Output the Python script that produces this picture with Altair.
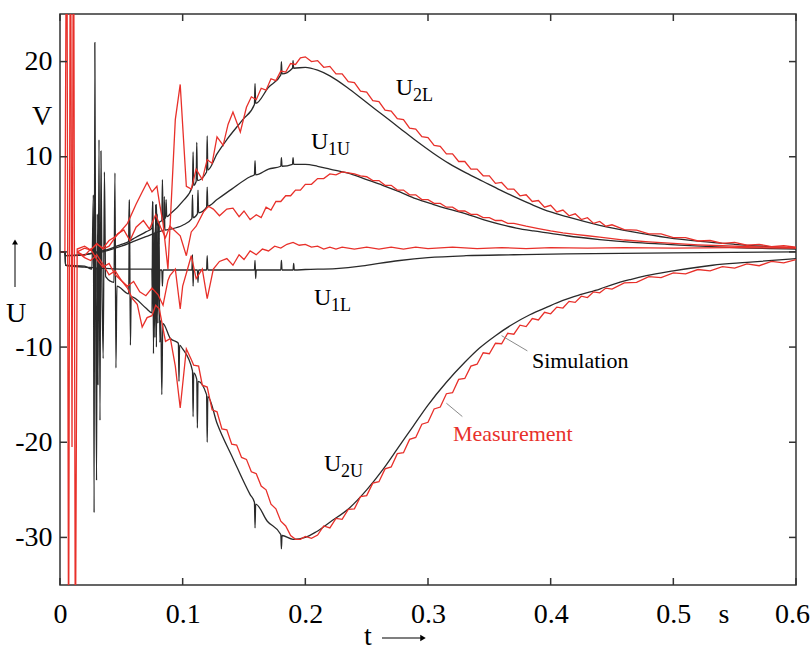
import altair as alt
import pandas as pd

# ---------------- data (t in s, U in V) ----------------
XTICKS = [0, 0.1, 0.2, 0.3, 0.4, 0.5, 0.6]
YTICKS = [-30, -20, -10, 0, 10, 20]

SIM_U2L = [(0, 0), (0.004, 0), (0.0045, -0.4), (0.02, -0.3), (0.03, 0.0), (0.04, 0.3), (0.05, 0.8),
           (0.056, 1.1), (0.0565, 5.5), (0.057, 1.2), (0.06, 1.4), (0.07, 2.1), (0.075, 2.5), (0.0755, 5.3),
           (0.076, 0.5), (0.078, 2.7), (0.0785, 5.0), (0.079, 2.8), (0.08, 3.0), (0.0805, 0.8), (0.081, 3.1),
           (0.083, 3.3), (0.0835, 7.6), (0.084, 3.4), (0.086, 3.6), (0.0865, 5.5), (0.087, 3.7), (0.09, 4.0),
           (0.1, 5.3), (0.108, 6.9), (0.1085, 10.5), (0.109, 7.0), (0.111, 7.4), (0.1115, 11.5), (0.112, 7.5),
           (0.1195, 8.4), (0.12, 12.2), (0.1205, 8.6), (0.128, 10.3), (0.136, 11.8), (0.149, 13.9),
           (0.1585, 15.5), (0.159, 17.7), (0.1595, 15.6), (0.17, 17.3), (0.18, 18.6), (0.1805, 20.0),
           (0.181, 18.7), (0.1895, 19.3), (0.19, 20.1), (0.1905, 19.3), (0.2, 19.4), (0.21, 19.1), (0.22, 18.5),
           (0.236, 17.1), (0.25, 15.7), (0.264, 14.3), (0.277, 13.0), (0.29, 11.7), (0.304, 10.4), (0.317, 9.3),
           (0.331, 8.3), (0.345, 7.4), (0.359, 6.5), (0.372, 5.7), (0.386, 4.9), (0.4, 4.2), (0.413, 3.7),
           (0.44, 2.8), (0.467, 2.1), (0.495, 1.5), (0.522, 1.1), (0.55, 0.8), (0.6, 0.4)]

SIM_U1U = [(0, 0), (0.004, 0), (0.0045, -0.4), (0.03, -0.1), (0.04, 0.2), (0.05, 0.6), (0.06, 1.1), (0.07, 1.6),
           (0.08, 2.1), (0.0845, 2.3), (0.085, 5.8), (0.0855, 2.3), (0.09, 2.4), (0.1, 2.8), (0.1075, 3.5),
           (0.108, 6.0), (0.1085, 3.6), (0.112, 4.0), (0.1125, 6.5), (0.113, 4.1), (0.1195, 4.7), (0.12, 6.8),
           (0.1205, 4.8), (0.128, 5.5), (0.14, 6.6), (0.155, 7.9), (0.1585, 8.1), (0.159, 9.6), (0.1595, 8.1),
           (0.17, 8.7), (0.18, 9.0), (0.1805, 9.9), (0.181, 9.0), (0.1895, 9.2), (0.19, 9.9), (0.1905, 9.2),
           (0.2, 9.2), (0.21, 9.0), (0.22, 8.7), (0.237, 8.2), (0.25, 7.6), (0.263, 7.0), (0.277, 6.3),
           (0.29, 5.6), (0.304, 5.0), (0.317, 4.5), (0.331, 4.0), (0.345, 3.4), (0.359, 2.9), (0.372, 2.5),
           (0.386, 2.2), (0.4, 1.95), (0.413, 1.7), (0.44, 1.3), (0.467, 1.0), (0.495, 0.8), (0.522, 0.6),
           (0.55, 0.45), (0.6, 0.3)]

SIM_U1L = [(0, 0), (0.004, 0), (0.0045, -1.4), (0.02, -1.6), (0.03, -1.7), (0.0305, -4.5), (0.031, -1.7),
           (0.05, -1.8), (0.075, -1.8), (0.0755, -4.0), (0.076, -0.5), (0.0765, -3.5), (0.077, -1.8),
           (0.08, -1.9), (0.0805, 1.5), (0.081, -4.0), (0.0815, -1.9), (0.083, -1.9), (0.0835, -3.6),
           (0.084, -1.9), (0.1, -1.9), (0.1075, -1.9), (0.108, -0.3), (0.1085, -3.6), (0.109, -1.9),
           (0.112, -1.9), (0.1125, -3.2), (0.113, -1.9), (0.1195, -1.9), (0.12, -0.4), (0.1205, -1.9),
           (0.15, -1.9), (0.1585, -1.9), (0.159, -0.9), (0.1595, -2.8), (0.16, -1.9), (0.18, -1.9),
           (0.1805, -0.9), (0.181, -1.9), (0.19, -1.9), (0.1905, -1.2), (0.191, -1.9), (0.2, -1.85),
           (0.225, -1.75), (0.245, -1.5), (0.26, -1.2), (0.277, -0.9), (0.3, -0.6), (0.331, -0.4),
           (0.37, -0.3), (0.413, -0.2), (0.5, -0.1), (0.6, 0.0)]

SIM_U2U = [(0, 0), (0.004, 0), (0.0045, -1.4), (0.02, -1.5), (0.026, -1.8), (0.0272, 6.0), (0.0278, -27.4),
           (0.0284, 22.0), (0.029, -2.0), (0.0298, -24.0), (0.0304, 4.0), (0.031, -14.0), (0.0318, 11.8),
           (0.0326, -17.7), (0.0334, 10.6), (0.0342, -3.0), (0.0352, -11.2), (0.0362, 8.4), (0.0372, -2.6),
           (0.044, -3.2), (0.0448, 8.3), (0.0456, -12.2), (0.0464, -3.6), (0.056, -4.4), (0.0566, 5.3),
           (0.0574, -9.8), (0.058, -4.7), (0.07, -5.9), (0.075, -6.4), (0.0756, 5.3), (0.0762, -10.7),
           (0.0768, 2.0), (0.0774, -9.0), (0.078, 5.0), (0.0786, -10.0), (0.0792, 4.0), (0.0798, -7.5),
           (0.0806, 3.0), (0.0814, -9.5), (0.0822, -7.2), (0.083, -15.0), (0.0838, -7.5), (0.09, -9.1),
           (0.0965, -9.6), (0.097, -13.6), (0.0975, -9.8), (0.1, -10.2), (0.108, -12.5), (0.1085, -17.3),
           (0.109, -12.7), (0.1115, -13.4), (0.112, -18.5), (0.1125, -13.6), (0.1195, -15.0), (0.12, -20.0),
           (0.1205, -15.2), (0.128, -18.0), (0.141, -21.7), (0.155, -25.5), (0.1585, -26.3), (0.159, -29.0),
           (0.1595, -26.5), (0.169, -28.3), (0.18, -29.7), (0.1805, -31.2), (0.181, -29.8), (0.19, -30.2),
           (0.2, -30.0), (0.209, -29.4), (0.22, -28.4), (0.236, -26.9), (0.25, -25.0), (0.263, -22.9),
           (0.275, -20.7), (0.288, -18.3), (0.3, -16.1), (0.315, -13.7), (0.33, -11.6), (0.342, -10.1),
           (0.355, -8.8), (0.369, -7.6), (0.383, -6.6), (0.397, -5.8), (0.41, -5.1), (0.424, -4.5),
           (0.44, -3.9), (0.451, -3.4), (0.465, -2.9), (0.478, -2.5), (0.5, -2.0), (0.532, -1.4),
           (0.56, -1.1), (0.6, -0.7)]

MEAS_U2L = [(0, 0), (0.004, 0), (0.0055, 45), (0.007, -45), (0.0085, 45), (0.0098, -20.5), (0.011, 45),
            (0.0125, -45), (0.014, 0.3), (0.02, 0.6), (0.025, 0.2), (0.03, 0.8), (0.035, 0.4), (0.04, 1.2),
            (0.045, 1.6), (0.049, 2.1), (0.055, 3.0), (0.062, 5.0), (0.067, 6.3), (0.071, 7.3), (0.075, 6.3),
            (0.079, 6.9), (0.081, 5.2), (0.084, 3.0), (0.088, -1.8), (0.094, 13.9), (0.098, 17.6),
            (0.103, 6.9), (0.107, 6.6), (0.111, 8.7), (0.116, 7.6), (0.12, 9.7), (0.124, 9.3), (0.128, 12.1),
            (0.133, 11.2), (0.137, 13.4), (0.141, 14.7), (0.147, 12.6), (0.152, 15.2), (0.156, 16.3),
            (0.16, 16.0), (0.164, 17.2), (0.168, 17.0), (0.172, 18.2), (0.176, 18.0), (0.18, 19.0),
            (0.184, 18.9), (0.188, 19.8), (0.192, 19.7), (0.196, 20.4), (0.2, 20.5), (0.205, 20.0),
            (0.21, 20.1), (0.215, 19.4), (0.22, 19.5), (0.225, 18.7), (0.23, 18.7), (0.235, 17.9),
            (0.24, 17.8), (0.245, 16.9), (0.25, 16.8), (0.255, 15.9), (0.26, 15.8), (0.265, 14.9),
            (0.27, 14.8), (0.275, 14.0), (0.28, 13.9), (0.285, 13.0), (0.29, 12.9), (0.295, 12.1),
            (0.3, 12.0), (0.305, 11.2), (0.31, 11.1), (0.315, 10.3), (0.32, 10.3), (0.325, 9.5), (0.33, 9.5),
            (0.335, 8.7), (0.34, 8.7), (0.345, 8.0), (0.35, 8.0), (0.355, 7.2), (0.36, 7.3), (0.365, 6.6),
            (0.37, 6.6), (0.375, 5.9), (0.38, 6.0), (0.385, 5.3), (0.39, 5.4), (0.395, 4.7), (0.4, 4.9),
            (0.405, 4.2), (0.41, 4.4), (0.415, 3.8), (0.42, 4.0), (0.425, 3.4), (0.43, 3.6), (0.435, 3.0),
            (0.44, 3.2), (0.445, 2.7), (0.45, 2.85), (0.46, 2.35), (0.47, 2.3), (0.48, 1.9), (0.49, 1.9),
            (0.5, 1.5), (0.51, 1.5), (0.52, 1.15), (0.53, 1.2), (0.54, 0.9), (0.55, 1.0), (0.56, 0.7),
            (0.57, 0.8), (0.58, 0.55), (0.59, 0.65), (0.6, 0.5)]

MEAS_U1U = [(0.014, 0.0), (0.02, 0.4), (0.025, 0.2), (0.03, 0.9), (0.035, 0.3), (0.04, 0.6), (0.047, 1.9),
            (0.052, 2.3), (0.057, 1.2), (0.062, 2.6), (0.068, 3.3), (0.073, 2.4), (0.078, 3.9), (0.082, 2.6),
            (0.086, 1.5), (0.0896, 2.7), (0.098, 1.7), (0.103, -0.4), (0.107, 2.1), (0.111, 2.7),
            (0.117, 4.2), (0.121, 4.8), (0.125, 4.5), (0.13, 3.8), (0.136, 4.5), (0.141, 4.6), (0.146, 3.7),
            (0.15, 4.3), (0.155, 3.4), (0.16, 3.9), (0.164, 3.6), (0.168, 4.7), (0.172, 4.4), (0.176, 5.3),
            (0.18, 5.3), (0.184, 5.9), (0.188, 5.9), (0.192, 6.5), (0.196, 6.5), (0.2, 7.1), (0.205, 7.1),
            (0.21, 7.7), (0.215, 7.7), (0.22, 8.2), (0.225, 8.1), (0.23, 8.4), (0.235, 8.3), (0.24, 8.2),
            (0.245, 8.0), (0.25, 7.9), (0.255, 7.5), (0.26, 7.5), (0.265, 7.0), (0.27, 7.0), (0.275, 6.5),
            (0.28, 6.5), (0.285, 6.0), (0.29, 6.0), (0.295, 5.5), (0.3, 5.5), (0.305, 5.1), (0.31, 5.1),
            (0.315, 4.7), (0.32, 4.7), (0.325, 4.3), (0.33, 4.3), (0.335, 3.95), (0.34, 3.95), (0.345, 3.6),
            (0.35, 3.6), (0.355, 3.3), (0.36, 3.3), (0.365, 3.0), (0.37, 3.0), (0.38, 2.7), (0.39, 2.45),
            (0.4, 2.2), (0.41, 2.0), (0.42, 1.85), (0.43, 1.7), (0.44, 1.55), (0.46, 1.25), (0.48, 1.05),
            (0.5, 0.9), (0.52, 0.75), (0.54, 0.65), (0.56, 0.55), (0.58, 0.5), (0.6, 0.45)]

MEAS_U1L = [(0.014, 0.0), (0.02, -0.6), (0.025, -0.9), (0.03, -0.3), (0.035, -1.3), (0.04, -2.4), (0.045, -2.0),
            (0.05, -3.0), (0.055, -3.6), (0.06, -3.1), (0.065, -4.2), (0.07, -4.6), (0.075, -3.8), (0.08, -4.5),
            (0.084, -5.6), (0.088, -3.0), (0.0896, -2.5), (0.094, -1.8), (0.098, -6.0), (0.1, -3.6),
            (0.104, -1.8), (0.107, -0.4), (0.111, -2.8), (0.116, -1.8), (0.12, -4.9), (0.125, -1.8),
            (0.13, -1.0), (0.136, -0.7), (0.141, -1.4), (0.146, -0.3), (0.15, -0.8), (0.155, 0.1),
            (0.16, -0.3), (0.165, 0.3), (0.17, 0.1), (0.175, 0.6), (0.18, 0.4), (0.185, 0.8), (0.19, 1.0),
            (0.195, 0.7), (0.2, 0.8), (0.205, 0.5), (0.21, 0.6), (0.215, 0.3), (0.22, 0.5), (0.225, 0.3),
            (0.23, 0.5), (0.24, 0.3), (0.25, 0.5), (0.26, 0.3), (0.27, 0.5), (0.28, 0.3), (0.29, 0.5),
            (0.3, 0.35), (0.32, 0.5), (0.34, 0.35), (0.36, 0.45), (0.38, 0.35), (0.4, 0.45), (0.43, 0.4),
            (0.46, 0.45), (0.5, 0.4), (0.55, 0.45), (0.6, 0.4)]

MEAS_U2U = [(0.014, 0.0), (0.02, -0.4), (0.025, 0.3), (0.03, -0.8), (0.035, -1.6), (0.04, -1.2), (0.045, -2.4),
            (0.05, -3.0), (0.055, -3.8), (0.059, -4.9), (0.063, -5.5), (0.067, -7.9), (0.071, -6.9),
            (0.075, -6.7), (0.078, -5.6), (0.081, -6.0), (0.086, -9.4), (0.09, -9.1), (0.094, -12.0),
            (0.098, -16.4), (0.103, -10.2), (0.107, -11.3), (0.109, -11.9), (0.113, -12.0), (0.116, -14.0),
            (0.12, -14.2), (0.124, -16.6), (0.128, -16.8), (0.132, -18.6), (0.136, -18.7), (0.14, -20.2),
            (0.144, -20.3), (0.148, -21.6), (0.152, -21.8), (0.156, -23.1), (0.16, -23.3), (0.164, -24.6),
            (0.168, -25.0), (0.172, -26.5), (0.176, -27.0), (0.18, -28.3), (0.184, -28.8), (0.188, -29.8),
            (0.192, -30.2), (0.196, -30.2), (0.2, -29.9), (0.205, -30.1), (0.21, -29.75), (0.215, -28.8),
            (0.22, -29.0), (0.225, -28.0), (0.23, -28.1), (0.235, -27.05), (0.24, -27.0), (0.245, -25.7),
            (0.25, -25.6), (0.255, -24.3), (0.26, -24.15), (0.265, -22.8), (0.27, -22.6), (0.275, -21.2),
            (0.28, -21.1), (0.285, -19.7), (0.29, -19.5), (0.295, -18.1), (0.3, -17.9), (0.305, -16.5),
            (0.31, -16.3), (0.315, -14.9), (0.32, -14.8), (0.325, -13.4), (0.33, -13.3), (0.335, -12.0),
            (0.34, -11.8), (0.345, -10.6), (0.35, -10.7), (0.355, -9.6), (0.36, -9.65), (0.365, -8.55),
            (0.37, -8.65), (0.375, -7.7), (0.38, -7.85), (0.385, -7.0), (0.39, -7.15), (0.395, -6.35),
            (0.4, -6.5), (0.405, -5.8), (0.41, -5.9), (0.415, -5.2), (0.42, -5.3), (0.425, -4.65),
            (0.43, -4.8), (0.435, -4.2), (0.44, -4.3), (0.445, -3.8), (0.45, -3.9), (0.46, -3.25),
            (0.47, -3.2), (0.48, -2.6), (0.49, -2.7), (0.5, -2.2), (0.51, -2.3), (0.52, -1.85), (0.53, -2.0),
            (0.54, -1.55), (0.55, -1.7), (0.56, -1.25), (0.57, -1.45), (0.58, -1.0), (0.59, -1.15),
            (0.6, -0.8)]

# curve labels (U + subscript)
LBL_TEXT = ["U", "2L", "U", "1U", "U", "1L", "U", "2U"]
LBL_T = [0.2738, 0.2877, 0.2046, 0.2185, 0.2071, 0.2210, 0.2152, 0.2291]
LBL_V = [16.5, 15.9, 10.8, 10.2, -5.55, -6.2, -23.0, -23.6]
LBL_SIZE = [24, 18, 24, 18, 24, 18, 24, 18]

NOTE_TEXT = ["Simulation", "Measurement"]
NOTE_T = [0.3847, 0.3203]
NOTE_V = [-12.25, -19.9]
NOTE_KIND = ["sim", "meas"]

LEADER_T = [0.360, 0.315]
LEADER_V = [-8.8, -15.9]
LEADER_T2 = [0.381, 0.328]
LEADER_V2 = [-10.4, -17.3]

# ---------------- build tables ----------------
BLACK = "#2a2a2a"
RED = "#e8302a"
FONT = "Liberation Serif"


def table(kind, curves):
    rows = []
    for name, pts in curves:
        for i, (t, v) in enumerate(pts):
            rows.append({"t": t, "v": v, "series": kind + name, "i": i})
    return pd.DataFrame(rows)


sim_df = table("sim", [("U2L", SIM_U2L), ("U1U", SIM_U1U), ("U1L", SIM_U1L), ("U2U", SIM_U2U)])
meas_df = table("meas", [("U2L", MEAS_U2L), ("U1U", MEAS_U1U), ("U1L", MEAS_U1L), ("U2U", MEAS_U2U)])

W, H = 736, 571

xscale = alt.Scale(domain=[0, 0.6], nice=False, zero=False)
yscale = alt.Scale(domain=[-35, 25], nice=False, zero=False)
xaxis = alt.Axis(values=XTICKS, labelExpr="'' + datum.value", ticks=False, tickSize=0, domain=False,
                 grid=False, title=None, labelFont=FONT, labelFontSize=28, labelColor="black",
                 labelPadding=15, labelFlush=False, labelOverlap=False,
                 labelOffset={"condition": {"test": "datum.value == 0.6", "value": -4}, "value": 0})
yaxis = alt.Axis(values=YTICKS, labelExpr="'' + datum.value", ticks=False, tickSize=0, domain=False,
                 grid=False, title=None, labelFont=FONT, labelFontSize=28, labelColor="black",
                 labelPadding=8, labelFlush=False, labelOverlap=False)


def X(field="t"):
    return alt.X(f"{field}:Q", scale=xscale, axis=xaxis)


def Y(field="v"):
    return alt.Y(f"{field}:Q", scale=yscale, axis=yaxis)


sim = alt.Chart(sim_df).mark_line(clip=True, strokeWidth=1.3, color=BLACK, interpolate="monotone").encode(
    x=X(), y=Y(), detail="series:N", order="i:Q")
meas = alt.Chart(meas_df).mark_line(clip=True, strokeWidth=1.3, color=RED).encode(
    x=X(), y=Y(), detail="series:N", order="i:Q")

lbl_df = pd.DataFrame({"t": LBL_T, "v": LBL_V, "txt": LBL_TEXT, "size": LBL_SIZE})
labels = alt.Chart(lbl_df).mark_text(font=FONT, align="left", baseline="alphabetic", color="black").encode(
    x=X(), y=Y(), text="txt:N",
    size=alt.Size("size:Q", scale=None, legend=None))

note_df = pd.DataFrame({"t": NOTE_T, "v": NOTE_V, "txt": NOTE_TEXT, "kind": NOTE_KIND})
notes = alt.Chart(note_df).mark_text(font=FONT, fontSize=22, align="left", baseline="alphabetic").encode(
    x=X(), y=Y(), text="txt:N",
    color=alt.Color("kind:N", scale=alt.Scale(domain=["sim", "meas"], range=["black", RED]), legend=None))

lead_df = pd.DataFrame({"t": LEADER_T, "v": LEADER_V, "t2": LEADER_T2, "v2": LEADER_V2})
leaders = alt.Chart(lead_df).mark_rule(color="#8a8a8a", strokeWidth=1).encode(
    x=X(), y=Y(), x2="t2:Q", y2="v2:Q")

# inward ticks on all four sides
xt_df = pd.DataFrame({"t": XTICKS})
yt_df = pd.DataFrame({"v": YTICKS})
TICK = dict(color="#333333", strokeWidth=1.5)
tick_bottom = alt.Chart(xt_df).mark_rule(**TICK).encode(x=X(), y=alt.value(H), y2=alt.value(H - 7))
tick_top = alt.Chart(xt_df).mark_rule(**TICK).encode(x=X(), y=alt.value(0), y2=alt.value(7))
tick_left = alt.Chart(yt_df).mark_rule(**TICK).encode(y=Y(), x=alt.value(0), x2=alt.value(7))
tick_right = alt.Chart(yt_df).mark_rule(**TICK).encode(y=Y(), x=alt.value(W), x2=alt.value(W - 7))

# axis decorations outside the plot (unit letters and arrows)
one = pd.DataFrame({"a": [0]})
TXT = dict(font=FONT, fontSize=28, color="black", align="center", baseline="alphabetic")
v_unit = alt.Chart(one).mark_text(**TXT).encode(x=alt.value(-18), y=alt.value(111), text=alt.value("V"))
u_name = alt.Chart(one).mark_text(**TXT).encode(x=alt.value(-44), y=alt.value(308), text=alt.value("U"))
s_unit = alt.Chart(one).mark_text(**TXT).encode(x=alt.value(664), y=alt.value(609), text=alt.value("s"))
t_name = alt.Chart(one).mark_text(**TXT).encode(x=alt.value(308), y=alt.value(631), text=alt.value("t"))
up_line = alt.Chart(one).mark_rule(color="black", strokeWidth=1).encode(
    x=alt.value(-45), y=alt.value(273), y2=alt.value(229))
up_head = alt.Chart(one).mark_point(shape="triangle-up", filled=True, size=35, color="black", opacity=1).encode(
    x=alt.value(-45), y=alt.value(228))
rt_line = alt.Chart(one).mark_rule(color="black", strokeWidth=1.2).encode(
    x=alt.value(322), x2=alt.value(362), y=alt.value(624))
rt_head = alt.Chart(one).mark_point(shape="triangle-right", filled=True, size=40, color="black", opacity=1).encode(
    x=alt.value(363), y=alt.value(624))

chart = alt.layer(
    sim, meas, leaders, labels, notes,
    tick_bottom, tick_top, tick_left, tick_right,
    v_unit, u_name, s_unit, t_name, up_line, up_head, rt_line, rt_head,
).properties(
    width=W, height=H,
    autosize=alt.AutoSizeParams(type="none"),
    padding={"left": 60, "top": 14, "right": 16, "bottom": 80},
    background="white",
).configure_view(stroke="#333333", strokeWidth=1.5)

chart.save("out.html", embed_options={"renderer": "svg", "actions": False})
